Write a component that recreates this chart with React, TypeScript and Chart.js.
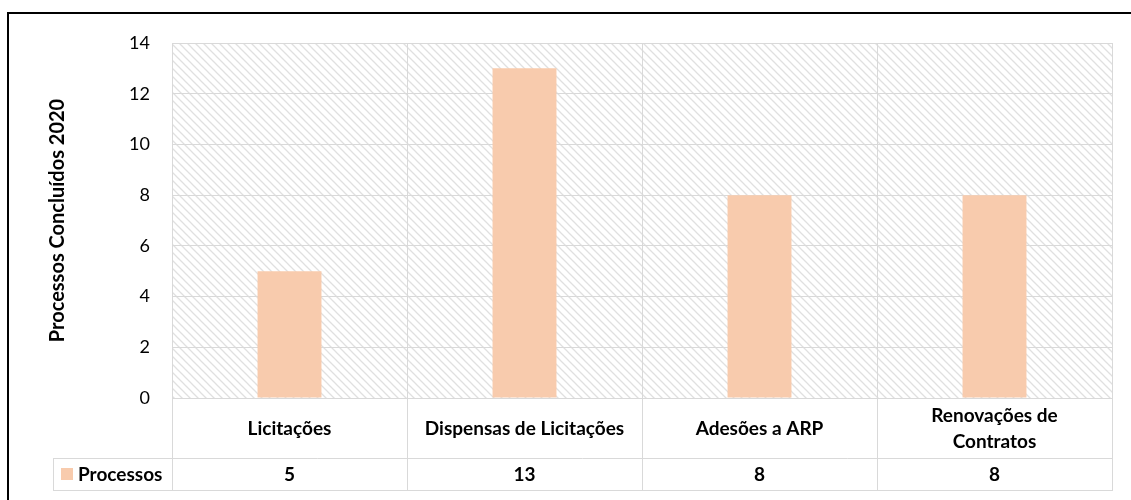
import React, { useEffect, useRef } from "react";
import { Chart, registerables } from "chart.js";

Chart.register(...registerables);

const categories: (string | string[])[] = [
  "Licitações",
  "Dispensas de Licitações",
  "Adesões a ARP",
  ["Renovações de", "Contratos"],
];
const seriesName = "Processos";
const values = [5, 13, 8, 8];
const yTicks = [0, 2, 4, 6, 8, 10, 12, 14];
const yTitle = "Processos Concluídos 2020";

const BAR_COLOR = "#F8CBAD";
const GRID = "#d9d9d9";
const FONT = "Lato, 'Open Sans', sans-serif";

function makePattern(ctx: CanvasRenderingContext2D) {
  const c = document.createElement("canvas");
  c.width = 8;
  c.height = 8;
  const p = c.getContext("2d")!;
  p.fillStyle = "#ffffff";
  p.fillRect(0, 0, 8, 8);
  p.strokeStyle = "#e0e0e0";
  p.lineWidth = 1.3;
  p.beginPath();
  p.moveTo(-2, -2);
  p.lineTo(10, 10);
  p.moveTo(-2, 6);
  p.lineTo(2, 10);
  p.moveTo(6, -2);
  p.lineTo(10, 2);
  p.stroke();
  return ctx.createPattern(c, "repeat")!;
}

export default function App() {
  const ref = useRef<HTMLCanvasElement>(null);
  useEffect(() => {
    const canvas = ref.current!;
    const ctx = canvas.getContext("2d")!;
    const pattern = makePattern(ctx);

    const framePlugin = {
      id: "frame",
      beforeDraw(chart: any) {
        const { ctx, chartArea: a } = chart;
        ctx.save();
        ctx.fillStyle = "#ffffff";
        ctx.fillRect(0, 0, chart.width, chart.height);
        ctx.fillStyle = pattern;
        ctx.fillRect(a.left, a.top, a.right - a.left, a.bottom - a.top);
        ctx.restore();
      },
      afterDraw(chart: any) {
        const { ctx, chartArea: a } = chart;
        const x = chart.scales.x;
        const top = a.bottom;
        const mid = a.bottom + 60;
        const bot = a.bottom + 92;
        const legLeft = 53;
        ctx.save();
        ctx.strokeStyle = GRID;
        ctx.lineWidth = 1;
        ctx.beginPath();
        const half = (x.getPixelForValue(1) - x.getPixelForValue(0)) / 2;
        for (let i = 0; i <= categories.length; i++) {
          const px = Math.round(x.getPixelForValue(i) - half) + 0.5;
          ctx.moveTo(px, top);
          ctx.lineTo(px, bot);
        }
        ctx.moveTo(legLeft + 0.5, mid);
        ctx.lineTo(legLeft + 0.5, bot);
        ctx.moveTo(legLeft, Math.round(mid) + 0.5);
        ctx.lineTo(a.right, Math.round(mid) + 0.5);
        ctx.moveTo(legLeft, Math.round(bot) + 0.5);
        ctx.lineTo(a.right + 1, Math.round(bot) + 0.5);
        ctx.stroke();

        ctx.fillStyle = "#000000";
        ctx.textAlign = "center";
        ctx.textBaseline = "middle";
        ctx.font = `bold 19px ${FONT}`;
        categories.forEach((c, i) => {
          const cx = x.getPixelForValue(i);
          const lines = Array.isArray(c) ? c : [c];
          const lh = 26;
          const cy = (top + mid) / 2 + 1 - ((lines.length - 1) * lh) / 2;
          lines.forEach((l, j) => ctx.fillText(l, cx, cy + j * lh));
        });
        values.forEach((v, i) => {
          ctx.fillText(String(v), x.getPixelForValue(i), (mid + bot) / 2 + 1);
        });
        // legend key
        ctx.fillStyle = BAR_COLOR;
        ctx.fillRect(61, (mid + bot) / 2 - 6, 12, 12);
        ctx.fillStyle = "#000000";
        ctx.textAlign = "left";
        ctx.font = `bold 19px ${FONT}`;
        ctx.fillText(seriesName, 78, (mid + bot) / 2 + 1);

        // outer black frame
        ctx.strokeStyle = "#000000";
        ctx.lineWidth = 2;
        ctx.beginPath();
        ctx.moveTo(8, chart.height + 5);
        ctx.lineTo(8, 13);
        ctx.lineTo(chart.width + 5, 13);
        ctx.stroke();
        ctx.restore();
      },
    };

    const chart = new Chart(canvas, {
      type: "bar",
      data: {
        labels: categories as any,
        datasets: [
          {
            label: seriesName,
            data: values,
            backgroundColor: BAR_COLOR,
            borderWidth: 0,
            categoryPercentage: 1,
            barPercentage: 0.272,
          },
        ],
      },
      options: {
        animation: false,
        responsive: false,
        maintainAspectRatio: false,
        layout: { padding: { top: 43, left: 46, right: 19, bottom: 102 } },
        plugins: {
          legend: { display: false },
          tooltip: { enabled: false },
        },
        scales: {
          x: {
            ticks: { display: false },
            grid: { color: GRID, lineWidth: 1, drawTicks: false, offset: true },
            border: { display: true, color: GRID },
          },
          y: {
            min: 0,
            max: 14,
            afterBuildTicks: (s: any) => {
              s.ticks = yTicks.map((v) => ({ value: v }));
            },
            afterFit: (s: any) => {
              s.width = 172 - 46;
            },
            ticks: {
              color: "#000000",
              font: { family: FONT, size: 18 },
              padding: 22,
            },
            grid: { color: GRID, lineWidth: 1, drawTicks: false },
            border: { display: true, color: GRID },
            title: {
              display: true,
              text: yTitle,
              color: "#000000",
              font: { family: FONT, size: 20, weight: "bold" },
              padding: { top: 0, bottom: 0 },
            },
          },
        },
      },
      plugins: [framePlugin],
    });
    return () => chart.destroy();
  }, []);
  return (
    <div style={{ position: "fixed", left: 0, top: 0, width: 1131, height: 500, background: "#fff" }}>
      <canvas ref={ref} width={1131} height={500} style={{ display: "block" }} />
    </div>
  );
}
